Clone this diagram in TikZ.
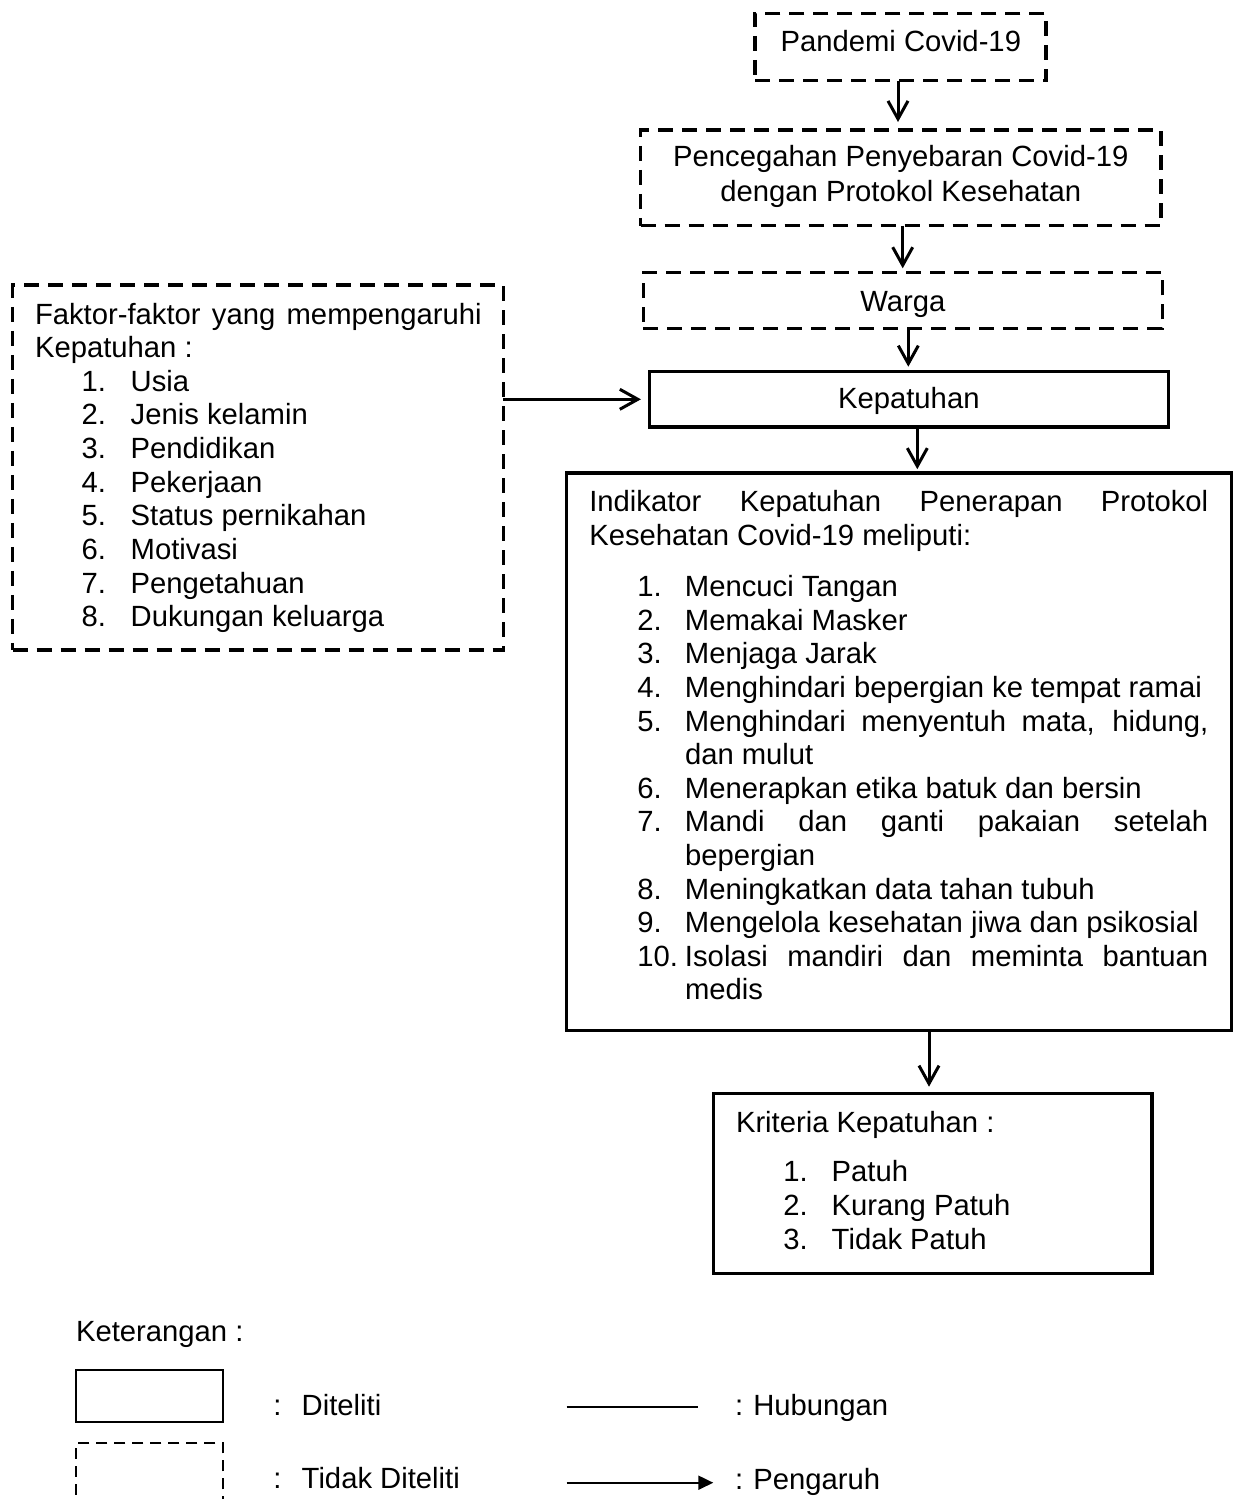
\documentclass[tikz,border=0pt]{standalone}
\usepackage{fontspec}
\setmainfont{Liberation Sans}
\usetikzlibrary{arrows.meta,fit}
\begin{document}
\begin{tikzpicture}[x=0.5pt,y=-0.5pt,
  every node/.style={font=\fontsize{14.62pt}{16.85pt}\selectfont, inner sep=0pt, outer sep=0pt},
  dbox/.style={draw, line width=1.6pt, dash pattern=on 7.5pt off 4.5pt, inner sep=0pt},
  sbox/.style={draw, line width=1.6pt, inner sep=0pt},
  lgsolid/.style={draw, line width=1pt, inner sep=0pt},
  lgdash/.style={draw, line width=1pt, dash pattern=on 5.5pt off 3.5pt, inner sep=0pt},
  arr/.style={line width=1.5pt, -{Straight Barb[length=9pt,width=10pt]}},
  txt/.style={anchor=base west},
  ctxt/.style={anchor=base}]
\useasboundingbox (0,0) rectangle (1235,1499);

% top chain
\node[dbox, fit={(755,13.3) (1046,80.7)}] (b1) {};
\node[ctxt] (t1) at (900.8,51.7) {Pandemi Covid-19};
\node[dbox, fit={(640.7,130) (1160.9,225.7)}] (b2) {};
\node[ctxt] (t2a) at (900.8,166.7) {Pencegahan Penyebaran Covid-19};
\node[ctxt] (t2b) at (900.8,201.7) {dengan Protokol Kesehatan};
\node[dbox, fit={(643.3,272.7) (1162.3,328.3)}] (b3) {};
\node[ctxt] (t3) at (902.8,311.7) {Warga};
\node[sbox, fit={(649.3,371.5) (1168.3,427)}] (kep) {};
\node[ctxt] (t4) at (908.8,408.3) {Kepatuhan};

% factors box
\node[dbox, fit={(12.7,285) (503.3,650)}] (fk) {};
\node[txt] (fk0) at (35,324.3) {\makebox[223.35pt][s]{Faktor-faktor yang mempengaruhi}};
\node[txt] (fk1) at (35,357.7) {Kepatuhan :};
\foreach \t [count=\i] in {Usia, Jenis kelamin, Pendidikan, Pekerjaan, Status pernikahan, Motivasi, Pengetahuan, Dukungan keluarga}
  \node[txt] (fi\i) at (81.7,{391+33.67*(\i-1)}) {\makebox[24.5pt][l]{\i.}\t};

% indicator box
\def\numw{23.85pt}
\def\jw{261.65pt}
\node[sbox, fit={(566.7,473) (1231.7,1030.7)}] (ind) {};
\node[txt] (in0) at (589.3,511.7) {\makebox[309.5pt][s]{Indikator Kepatuhan Penerapan Protokol}};
\node[txt] (in1) at (589.3,545) {Kesehatan Covid-19 meliputi:};
\node[txt] (ia1) at (637.3,596.7) {\makebox[\numw][l]{1.}Mencuci Tangan};
\node[txt] (ia2) at (637.3,630.3) {\makebox[\numw][l]{2.}Memakai Masker};
\node[txt] (ia3) at (637.3,663.9) {\makebox[\numw][l]{3.}Menjaga Jarak};
\node[txt] (ia4) at (637.3,697.5) {\makebox[\numw][l]{4.}Menghindari bepergian ke tempat ramai};
\node[txt] (ia5) at (637.3,731.1) {\makebox[\numw][l]{5.}\makebox[\jw][s]{Menghindari menyentuh mata, hidung,}};
\node[txt] (ia5b) at (685,764.7) {dan mulut};
\node[txt] (ia6) at (637.3,798.3) {\makebox[\numw][l]{6.}Menerapkan etika batuk dan bersin};
\node[txt] (ia7) at (637.3,831.9) {\makebox[\numw][l]{7.}\makebox[\jw][s]{Mandi dan ganti pakaian setelah}};
\node[txt] (ia7b) at (685,865.5) {bepergian};
\node[txt] (ia8) at (637.3,899.1) {\makebox[\numw][l]{8.}Meningkatkan data tahan tubuh};
\node[txt] (ia9) at (637.3,932.7) {\makebox[\numw][l]{9.}Mengelola kesehatan jiwa dan psikosial};
\node[txt] (ia10) at (637.3,966.3) {\makebox[\numw][l]{10.}\makebox[\jw][s]{Isolasi mandiri dan meminta bantuan}};
\node[txt] (ia10b) at (685,999.9) {medis};

% criteria box
\node[sbox, fit={(713.3,1093.3) (1152,1273.3)}] (kr) {};
\node[txt] (kr0) at (736,1132.7) {Kriteria Kepatuhan :};
\foreach \t [count=\i] in {Patuh, Kurang Patuh, Tidak Patuh}
  \node[txt] (ki\i) at (783.3,{1181.7+33.65*(\i-1)}) {\makebox[24.2pt][l]{\i.}\t};

% connectors
\coordinate (x1) at (898,0);
\coordinate (x2) at (902.7,0);
\coordinate (x3) at (908.3,0);
\coordinate (x4) at (917.3,0);
\coordinate (x5) at (929,0);
\coordinate (yk) at (0,399.3);
\draw[arr, shorten >=4pt] (b1.south -| x1) -- (b2.north -| x1);
\draw[arr, shorten >=2.2pt] (b2.south -| x2) -- (b3.north -| x2);
\draw[arr, shorten >=2.4pt] (b3.south -| x3) -- (kep.north -| x3);
\draw[arr, shorten >=1.9pt] (kep.south -| x4) -- (ind.north -| x4);
\draw[arr, shorten >=3.3pt] (ind.south -| x5) -- (kr.north -| x5);
\draw[arr, shorten >=4.2pt] (fk.east |- yk) -- (kep.west |- yk);

% legend
\node[txt] (ket) at (76,1341.7) {Keterangan :};
\node[lgsolid, fit={(76,1370) (223.3,1421.7)}] (lg1) {};
\node[txt] (lg1t) at (273.3,1415) {\makebox[14.2pt][l]{:}Diteliti};
\node[lgdash, fit={(76,1443.3) (223.3,1540)}] (lg2) {};
\node[txt] (lg2t) at (273.3,1488.3) {\makebox[14.2pt][l]{:}Tidak Diteliti};
\coordinate (h1) at (566.7,1407.3);
\coordinate (h2) at (698.3,1407.3);
\draw[line width=1pt] (h1) -- (h2);
\node[txt] (lg3t) at (735,1415) {\makebox[9.15pt][l]{:}Hubungan};
\coordinate (p1) at (566.7,1482.7);
\coordinate (p2) at (713.3,1482.7);
\draw[line width=1pt, -{Triangle[length=7.5pt,width=7pt]}] (p1) -- (p2);
\node[txt] (lg4t) at (735,1489) {\makebox[9.15pt][l]{:}Pengaruh};
\end{tikzpicture}
\end{document}
